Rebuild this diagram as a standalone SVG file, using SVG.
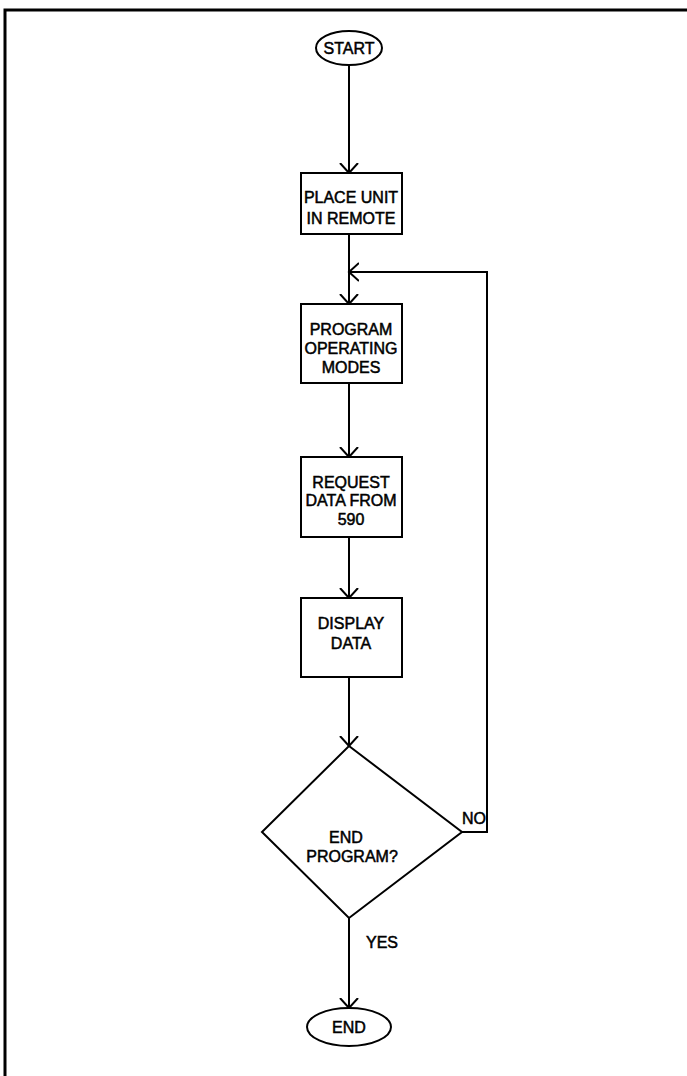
<svg xmlns="http://www.w3.org/2000/svg" width="687" height="1076" viewBox="0 0 687 1076">
<defs>
<style>
.shape{fill:#fff;stroke:#000;stroke-width:2}
.ln{fill:none;stroke:#000;stroke-width:2}
.t{font-family:"Liberation Sans",Arial,sans-serif;font-size:16px;fill:#000;stroke:#000;stroke-width:0.5;text-anchor:middle}
</style>
<marker id="ah" viewBox="0 0 20 20" refX="10" refY="10" markerWidth="20" markerHeight="20" markerUnits="userSpaceOnUse" orient="auto">
<path d="M0,1 L10,10 L0,19" fill="none" stroke="#000" stroke-width="2"/>
</marker>
</defs>
<rect width="687" height="1076" fill="#fff"/>
<path d="M5,1076 L5,10 L687,10" fill="none" stroke="#000" stroke-width="3"/>
<g id="connectors">
<line class="ln" x1="349" y1="66" x2="349" y2="173" marker-end="url(#ah)"/>
<line class="ln" x1="349" y1="234" x2="349" y2="304" marker-end="url(#ah)"/>
<line class="ln" x1="349" y1="383" x2="349" y2="457" marker-end="url(#ah)"/>
<line class="ln" x1="349" y1="537" x2="349" y2="598" marker-end="url(#ah)"/>
<line class="ln" x1="349" y1="677" x2="349" y2="746" marker-end="url(#ah)"/>
<line class="ln" x1="349" y1="918" x2="349" y2="1008" marker-end="url(#ah)"/>
<polyline class="ln" points="462,832 487,832 487,272 349,272" marker-end="url(#ah)"/>
<text class="t" x="474" y="824">NO</text>
<text class="t" x="382" y="948">YES</text>
</g>
<g id="start"><ellipse class="shape" cx="349" cy="48" rx="33" ry="17"/><text class="t" x="349" y="54">START</text></g>
<g id="place"><rect class="shape" x="301" y="173" width="101" height="61"/><text class="t" x="351" y="203">PLACE UNIT</text><text class="t" x="351" y="224">IN REMOTE</text></g>
<g id="program"><rect class="shape" x="301" y="304" width="101" height="79"/><text class="t" x="351" y="335">PROGRAM</text><text class="t" x="351" y="354">OPERATING</text><text class="t" x="351" y="373">MODES</text></g>
<g id="request"><rect class="shape" x="301" y="457" width="101" height="80"/><text class="t" x="351" y="488">REQUEST</text><text class="t" x="351" y="506">DATA FROM</text><text class="t" x="351" y="525">590</text></g>
<g id="display"><rect class="shape" x="301" y="598" width="101" height="79"/><text class="t" x="351" y="629">DISPLAY</text><text class="t" x="351" y="649">DATA</text></g>
<g id="decision"><polygon class="shape" points="349,746 462,832 349,918 262,832"/><text class="t" x="346" y="843">END</text><text class="t" x="352" y="862">PROGRAM?</text></g>
<g id="end"><ellipse class="shape" cx="349" cy="1027" rx="42" ry="19"/><text class="t" x="349" y="1033">END</text></g>
</svg>
